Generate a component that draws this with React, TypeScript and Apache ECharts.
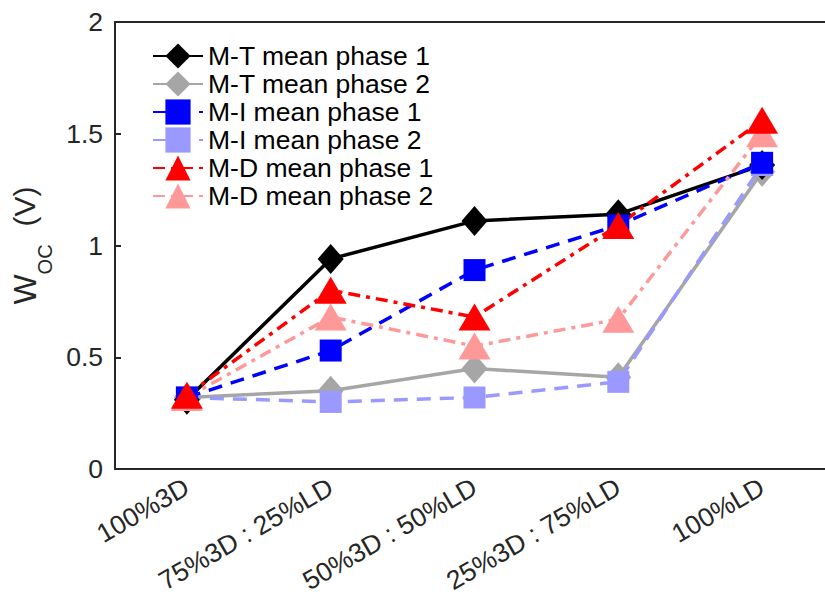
import React, { useEffect, useRef } from "react";
import * as echarts from "echarts";

const categories = ["100%3D", "75%3D : 25%LD", "50%3D : 50%LD", "25%3D : 75%LD", "100%LD"];
const mtPhase1 = [0.31, 0.94, 1.11, 1.14, 1.36];
const mtPhase2 = [0.32, 0.35, 0.45, 0.41, 1.33];
const miPhase1 = [0.32, 0.53, 0.89, 1.09, 1.37];
const miPhase2 = [0.32, 0.3, 0.32, 0.39, 1.36];
const mdPhase1 = [0.33, 0.8, 0.68, 1.09, 1.56];
const mdPhase2 = [0.32, 0.68, 0.55, 0.67, 1.5];
const yTicks = [0, 0.5, 1, 1.5, 2];
const legendNames = [
  "M-T mean phase 1",
  "M-T mean phase 2",
  "M-I mean phase 1",
  "M-I mean phase 2",
  "M-D mean phase 1",
  "M-D mean phase 2",
];

const FONT = "Liberation Sans, Arial, sans-serif";
const AX = "#262626";

export default function App() {
  const ref = useRef<HTMLDivElement>(null);
  useEffect(() => {
    if (!ref.current) return;
    const chart = echarts.init(ref.current, null, { renderer: "svg" });
    const mk = (name: string, data: number[], color: string, symbol: string, size: any, type: any) => ({
      name,
      type: "line",
      data,
      symbol,
      symbolSize: size,
      lineStyle: { color, width: 3.5, type },
      itemStyle: { color, borderWidth: 0 },
      emphasis: { disabled: true },
    });
    const diamond = [26, 30];
    const square = 22;
    const tri = [32, 27];
    chart.setOption({
      animation: false,
      backgroundColor: "#fff",
      textStyle: { fontFamily: FONT },
      grid: { left: 115, top: 22, width: 719, height: 447, containLabel: false, outerBoundsMode: "none" },
      legend: {
        orient: "vertical",
        left: 147,
        top: 37,
        itemGap: 0,
        itemWidth: 50,
        itemHeight: 31.5,
        textStyle: { fontSize: 26.5, lineHeight: 28, color: "#000", fontFamily: FONT },
        data: legendNames,
      },
      xAxis: [
        {
          type: "category",
          data: categories,
          boundaryGap: true,
          axisLine: { lineStyle: { color: AX, width: 2 } },
          axisTick: { inside: true, alignWithLabel: true, length: 6, lineStyle: { color: AX, width: 2 } },
          axisLabel: { rotate: 30, fontSize: 26.5, color: AX, margin: 16, fontFamily: FONT, interval: 0 },
        },
        {
          type: "category",
          data: categories,
          position: "top",
          boundaryGap: true,
          axisLine: { lineStyle: { color: AX, width: 2 } },
          axisTick: { inside: true, alignWithLabel: true, length: 6, lineStyle: { color: AX, width: 2 } },
          axisLabel: { show: false },
        },
      ],
      yAxis: [
        {
          type: "value",
          min: 0,
          max: 2,
          interval: 0.5,
          axisLine: { show: true, lineStyle: { color: AX, width: 2 } },
          axisTick: { show: true, inside: true, length: 6, lineStyle: { color: AX, width: 2 } },
          splitLine: { show: false },
          axisLabel: {
            fontSize: 26.5,
            color: AX,
            margin: 12,
            fontFamily: FONT,
            formatter: (v: number) => (yTicks.includes(v) ? String(v) : ""),
          },
          name: "{w|W}{s|OC}{v|(V)}",
          nameLocation: "middle",
          nameGap: 58,
          nameRotate: 90,
          nameTextStyle: {
            rich: {
              w: { fontSize: 32, color: AX, fontFamily: FONT, verticalAlign: "top" },
              s: { fontSize: 20, color: AX, fontFamily: FONT, verticalAlign: "top", padding: [26, 0, 0, 0] },
              v: { fontSize: 30, color: AX, fontFamily: FONT, verticalAlign: "top", padding: [0, 0, 0, 18] },
            },
          },
        },
      ],
      series: [
        mk("M-T mean phase 2", mtPhase2, "#a6a6a6", "diamond", diamond, "solid"),
        mk("M-T mean phase 1", mtPhase1, "#000000", "diamond", diamond, "solid"),
        mk("M-I mean phase 2", miPhase2, "#9999ff", "rect", square, [14, 9]),
        mk("M-I mean phase 1", miPhase1, "#0000ff", "rect", square, [14, 9]),
        mk("M-D mean phase 2", mdPhase2, "#ff9999", "triangle", tri, [12, 6, 4, 6]),
        mk("M-D mean phase 1", mdPhase1, "#ff0000", "triangle", tri, [12, 6, 4, 6]),
      ],
    });
    return () => chart.dispose();
  }, []);
  return <div ref={ref} style={{ width: 825, height: 601, position: "absolute", left: 0, top: 0 }} />;
}
